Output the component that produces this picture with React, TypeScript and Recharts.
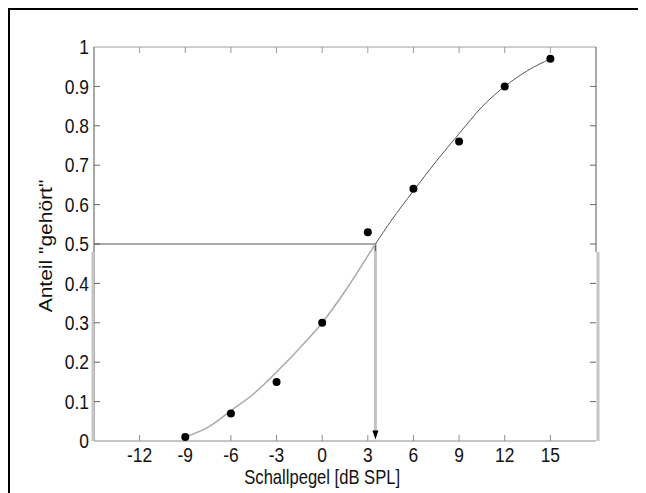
import React from 'react';
import { ComposedChart, Line, Scatter, XAxis, YAxis, ReferenceLine } from 'recharts';

// measured points: sound level [dB SPL] vs. share "heard"
const levels = [-9, -6, -3, 0, 3, 6, 9, 12, 15];
const heardShare = [0.01, 0.07, 0.15, 0.3, 0.53, 0.64, 0.76, 0.9, 0.97];

// fitted psychometric curve
const fitLevels = [-9, -7.5, -6, -4.5, -3, -1.5, 0, 1.5, 3, 3.5, 4.5, 6, 7.5, 9, 10.5, 12, 13.5, 15];
const fitShare = [0.01, 0.035, 0.077, 0.12, 0.175, 0.235, 0.3, 0.38, 0.47, 0.5, 0.557, 0.635, 0.71, 0.78, 0.848, 0.9, 0.94, 0.97];

const threshold = 3.5;
const thresholdShare = 0.5;

const xDomain = [-15, 18];
const yDomain = [0, 1];
const xTicks = [-12, -9, -6, -3, 0, 3, 6, 9, 12, 15];
const yTicks = [0, 0.1, 0.2, 0.3, 0.4, 0.5, 0.6, 0.7, 0.8, 0.9, 1];

const FONT = "'Liberation Sans', Arial, sans-serif";
const TICK_SQUEEZE = 0.87; // the original figure is narrower than tall
const LABEL_SQUEEZE = 0.83;

const points = levels.map((x, i) => ({ x, y: heardShare[i] }));
const fit = fitLevels.map((x, i) => ({ x, y: fitShare[i] }));
const fitLow = fit.filter((d) => d.x <= threshold);
const fitHigh = fit.filter((d) => d.x >= threshold);

const XTick = (p: any) => (
  <text transform={`translate(${p.x},${p.y}) scale(${TICK_SQUEEZE},1)`} textAnchor="middle" dy="0.71em" fill="#111" fontSize={20} fontFamily={FONT}>
    {p.payload.value}
  </text>
);

const YTick = (p: any) => (
  <text transform={`translate(${p.x},${p.y}) scale(${TICK_SQUEEZE},1)`} textAnchor="end" dy="0.355em" fill="#111" fontSize={20} fontFamily={FONT}>
    {p.payload.value}
  </text>
);

const Dot = (p: any) => <circle cx={p.cx} cy={p.cy} r={4} fill="#000" />;

// inward tick marks at both ends of a reference line
const vTicks = (p: any) => {
  const top = Math.min(p.y1, p.y2);
  const bot = Math.max(p.y1, p.y2);
  return (
    <g>
      <line x1={p.x1} y1={top} x2={p.x1} y2={top + 6} stroke="#9a9a9a" />
      <line x1={p.x1} y1={bot} x2={p.x1} y2={bot - 6} stroke="#8c8c8c" />
    </g>
  );
};
const hTicks = (p: any) => {
  const l = Math.min(p.x1, p.x2);
  const r = Math.max(p.x1, p.x2);
  return (
    <g>
      <line x1={l} y1={p.y1} x2={l + 6} y2={p.y1} stroke="#666" />
      <line x1={r} y1={p.y1} x2={r - 6} y2={p.y1} stroke="#666" />
    </g>
  );
};

const ArrowDown = (p: any) => {
  const top = Math.min(p.y1, p.y2);
  const tip = Math.max(p.y1, p.y2) - 1.5;
  return (
    <g>
      <line x1={p.x1} y1={top} x2={p.x1} y2={tip - 8} stroke="#c2c2c2" strokeWidth={3} />
      <line x1={p.x1} y1={top} x2={p.x1} y2={top + 7} stroke="#555" strokeWidth={1} />
      <polygon points={`${p.x1 - 3},${tip - 9} ${p.x1 + 3},${tip - 9} ${p.x1},${tip}`} fill="#000" />
    </g>
  );
};

const greyEdge = (dx: number) => (p: any) => (
  <line x1={p.x1 + dx} y1={p.y1} x2={p.x2 + dx} y2={p.y2} stroke="#c4c4c4" strokeWidth={3} />
);

export default function App() {
  return (
    <div style={{ width: 638, height: 485, borderTop: '2px solid #000', borderLeft: '2px solid #000', background: '#fff' }}>
      <ComposedChart width={636} height={483} margin={{ top: 37, right: 50, bottom: 20, left: 24 }}>
        <XAxis
          dataKey="x"
          type="number"
          domain={xDomain}
          ticks={xTicks}
          height={32}
          tick={<XTick />}
          axisLine={false}
          tickLine={false}
          tickSize={0}
          tickMargin={7}
          label={{
            content: (p: any) => {
              const vb = p.viewBox;
              const cx = vb.x + ((0 - xDomain[0]) / (xDomain[1] - xDomain[0])) * vb.width;
              return (
                <text transform={`translate(${cx},${vb.y + 43}) scale(${LABEL_SQUEEZE},1)`} textAnchor="middle" fill="#111" fontSize={20} fontFamily={FONT}>
                  Schallpegel [dB SPL]
                </text>
              );
            },
          }}
        />
        <YAxis
          dataKey="y"
          type="number"
          domain={yDomain}
          ticks={yTicks}
          width={60}
          tick={<YTick />}
          axisLine={false}
          tickLine={false}
          tickSize={0}
          tickMargin={5}
          label={{
            content: (p: any) => {
              const vb = p.viewBox;
              const cx = vb.x + 18;
              const cy = vb.y + vb.height / 2 + 2;
              return (
                <text transform={`translate(${cx},${cy}) rotate(-90) scale(1,${LABEL_SQUEEZE})`} textAnchor="middle" fill="#111" fontSize={21} fontFamily={FONT}>
                  Anteil "gehört"
                </text>
              );
            },
          }}
        />

        {/* box frame */}
        <ReferenceLine segment={[{ x: xDomain[0], y: yDomain[0] }, { x: xDomain[1], y: yDomain[0] }]} stroke="#8c8c8c" ifOverflow="visible" />
        <ReferenceLine segment={[{ x: xDomain[0], y: yDomain[1] }, { x: xDomain[1], y: yDomain[1] }]} stroke="#a0a0a0" ifOverflow="visible" />
        <ReferenceLine segment={[{ x: xDomain[0], y: yDomain[0] }, { x: xDomain[0], y: yDomain[1] }]} stroke="#555" ifOverflow="visible" />
        <ReferenceLine segment={[{ x: xDomain[1], y: 0.48 }, { x: xDomain[1], y: yDomain[1] }]} stroke="#555" ifOverflow="visible" />
        <ReferenceLine segment={[{ x: xDomain[0], y: yDomain[0] }, { x: xDomain[0], y: 0.48 }]} shape={greyEdge(-1)} ifOverflow="visible" />
        <ReferenceLine segment={[{ x: xDomain[1], y: yDomain[0] }, { x: xDomain[1], y: 0.48 }]} shape={greyEdge(2)} ifOverflow="visible" />
        {xTicks.map((t) => (
          <ReferenceLine key={`xt${t}`} x={t} shape={vTicks} />
        ))}
        {yTicks.slice(1, -1).map((t) => (
          <ReferenceLine key={`yt${t}`} y={t} shape={hTicks} />
        ))}

        <ReferenceLine segment={[{ x: xDomain[0], y: thresholdShare }, { x: threshold, y: thresholdShare }]} stroke="#555" strokeWidth={1} ifOverflow="visible" />
        <ReferenceLine segment={[{ x: threshold, y: thresholdShare }, { x: threshold, y: yDomain[0] }]} shape={ArrowDown} ifOverflow="visible" />

        <Line data={fitLow} dataKey="y" type="monotone" stroke="#aaa" strokeWidth={1.5} dot={false} isAnimationActive={false} />
        <Line data={fitHigh} dataKey="y" type="monotone" stroke="#555" strokeWidth={1} dot={false} isAnimationActive={false} />
        <Scatter data={points} dataKey="y" shape={Dot} isAnimationActive={false} />
      </ComposedChart>
    </div>
  );
}
